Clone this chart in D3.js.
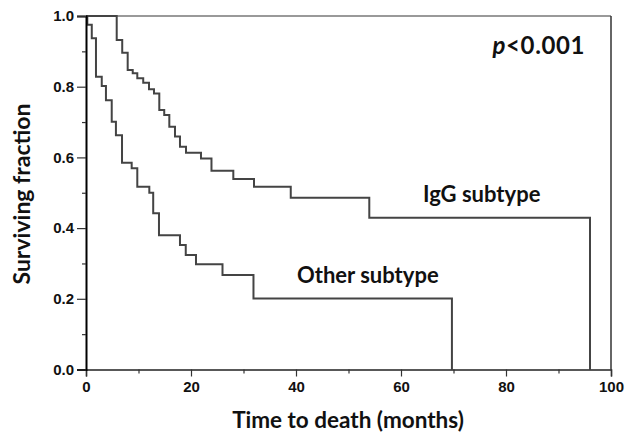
<!DOCTYPE html>
<html>
<head>
<meta charset="utf-8">
<script src="https://cdn.jsdelivr.net/npm/d3@7/dist/d3.min.js"></script>
<style>
  body { margin: 0; background: #fff; }
  .tick text { font-family: "Liberation Sans", Arial, sans-serif; font-weight: bold; font-size: 15px; fill: #111; }
  .title { font-family: Lato, "Open Sans", sans-serif; font-weight: bold; fill: #111; }
</style>
</head>
<body>
<div id="vis"></div>
<script>
// Kaplan-Meier steps (time in months, surviving fraction after the step)
var otherTimes = [0.25, 1.1, 1.9, 3.0, 3.8, 4.9, 5.7, 6.86, 8.7, 9.77, 12.06, 12.8, 13.9, 17.9, 19.0, 20.95, 26.0, 31.9, 69.7];
var otherSurv  = [0.975, 0.937, 0.828, 0.802, 0.762, 0.701, 0.663, 0.585, 0.569, 0.517, 0.500, 0.442, 0.380, 0.352, 0.324, 0.298, 0.267, 0.201, 0];

var iggTimes = [5.85, 6.9, 7.94, 8.9, 9.77, 10.9, 12.0, 12.95, 13.96, 14.9, 15.87, 16.95, 17.9, 19.05, 21.9, 23.9, 28.06, 32.0, 39.0, 53.96, 96.0];
var iggSurv  = [0.932, 0.896, 0.847, 0.838, 0.824, 0.811, 0.793, 0.781, 0.734, 0.720, 0.687, 0.659, 0.630, 0.613, 0.597, 0.562, 0.539, 0.517, 0.486, 0.429, 0];

var xMajorTicks = [0, 20, 40, 60, 80, 100];
var xMinorTicks = [10, 30, 50, 70, 90];
var yMajorTicks = [0, 0.2, 0.4, 0.6, 0.8, 1.0];
var yMinorTicks = [0.1, 0.3, 0.5, 0.7, 0.9];

var width = 626, height = 437;
var margin = { top: 16, right: 15, bottom: 67.5, left: 86 };

var svg = d3.select('#vis').append('svg')
  .attr('width', width)
  .attr('height', height);

var x = d3.scaleLinear().domain([0, 100]).range([margin.left, width - margin.right]);
var y = d3.scaleLinear().domain([0, 1]).range([height - margin.bottom, margin.top]);

function steps(times, surv) {
  var pts = [[0, 1]];
  times.forEach(function (t, i) { pts.push([t, surv[i]]); });
  return pts;
}

var line = d3.line()
  .curve(d3.curveStepAfter)
  .x(function (d) { return x(d[0]); })
  .y(function (d) { return y(d[1]); });

// frame: top and right
svg.append('line')
  .attr('x1', x(0)).attr('x2', x(100))
  .attr('y1', y(1)).attr('y2', y(1))
  .attr('stroke', '#777').attr('stroke-width', 1.5);
svg.append('line')
  .attr('x1', x(100)).attr('x2', x(100))
  .attr('y1', y(1)).attr('y2', y(0))
  .attr('stroke', '#333').attr('stroke-width', 1.5);

// curves
[[otherTimes, otherSurv], [iggTimes, iggSurv]].forEach(function (s) {
  svg.append('path')
    .attr('d', line(steps(s[0], s[1])))
    .attr('fill', 'none')
    .attr('stroke', '#444')
    .attr('stroke-width', 2);
});

// axes
svg.append('g')
  .attr('transform', 'translate(0,' + y(0) + ')')
  .call(d3.axisBottom(x).tickValues(xMajorTicks).tickSize(7).tickPadding(5).tickFormat(d3.format('d')));
svg.append('g')
  .attr('transform', 'translate(0,' + y(0) + ')')
  .call(d3.axisBottom(x).tickValues(xMinorTicks).tickSize(4).tickFormat(''))
  .select('.domain').remove();

var yAxis = svg.append('g')
  .attr('transform', 'translate(' + x(0) + ',0)')
  .call(d3.axisLeft(y).tickValues(yMajorTicks).tickSize(9).tickPadding(3).tickFormat(d3.format('.1f')));
svg.append('g')
  .attr('transform', 'translate(' + x(0) + ',0)')
  .call(d3.axisLeft(y).tickValues(yMinorTicks).tickSize(4).tickFormat(''))
  .select('.domain').remove();

svg.selectAll('.domain').attr('stroke', '#222').attr('stroke-width', 1.5);
yAxis.select('.domain').attr('stroke', '#000').attr('stroke-width', 2);
svg.selectAll('.tick line').attr('stroke', '#333').attr('stroke-width', 1.2);

// titles
svg.append('text')
  .attr('class', 'title')
  .attr('x', 348)
  .attr('y', 428)
  .attr('text-anchor', 'middle')
  .style('font-size', '22.5px')
  .text('Time to death (months)');

svg.append('text')
  .attr('class', 'title')
  .attr('transform', 'translate(30,194) rotate(-90)')
  .attr('text-anchor', 'middle')
  .style('font-size', '23px')
  .text('Surviving fraction');

var p = svg.append('text')
  .attr('class', 'title')
  .attr('x', 585)
  .attr('y', 54)
  .attr('text-anchor', 'end')
  .style('font-size', '24px')
  .style('letter-spacing', '0.6px');
p.append('tspan').style('font-style', 'italic').text('p');
p.append('tspan').text('<0.001');

svg.append('text')
  .attr('class', 'title')
  .attr('x', 423)
  .attr('y', 202)
  .style('font-size', '22px')
  .text('IgG subtype');

svg.append('text')
  .attr('class', 'title')
  .attr('x', 297)
  .attr('y', 283)
  .style('font-size', '22px')
  .text('Other subtype');
</script>
</body>
</html>
